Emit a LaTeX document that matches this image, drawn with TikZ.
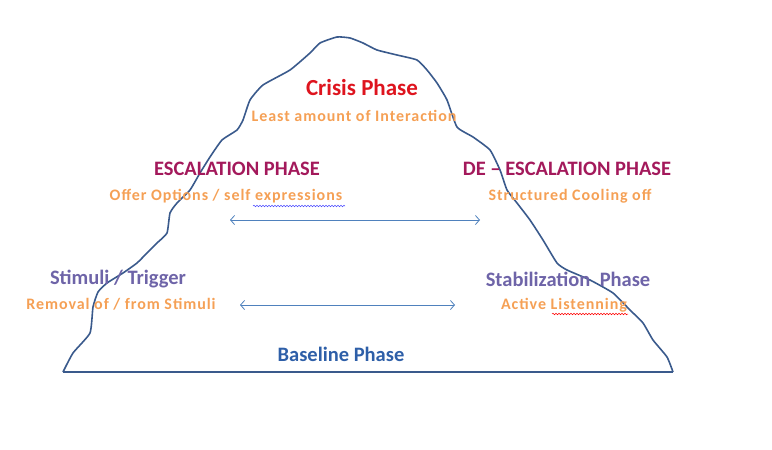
\documentclass[tikz,border=0pt]{standalone}
\usepackage{fontspec}
\setmainfont{Carlito}
\usetikzlibrary{arrows.meta,decorations.pathmorphing}
\definecolor{mline}{RGB}{58,90,140}
\definecolor{arrowc}{RGB}{79,129,189}
\definecolor{crisisred}{RGB}{222,20,30}
\definecolor{escmag}{RGB}{163,25,91}
\definecolor{orangetx}{RGB}{245,160,85}
\definecolor{stimc}{RGB}{110,100,168}
\definecolor{basec}{RGB}{46,95,168}
\tikzset{
  head/.style={font=\bfseries\fontsize{20.5}{22}\selectfont, inner sep=0pt},
  sub/.style={font=\bfseries\fontsize{16}{18}\selectfont\addfontfeatures{LetterSpace=6}, text=orangetx, inner sep=0pt},
  link/.style={draw=arrowc, line width=0.8pt, {Straight Barb[length=4pt,width=9pt]}-{Straight Barb[length=4pt,width=9pt]}},
  wavy/.style={decorate, decoration={snake, amplitude=0.8pt, segment length=3pt}, line width=0.5pt}
}
\begin{document}
\begin{tikzpicture}[x=1pt,y=-1pt]
\useasboundingbox (0,0) rectangle (772,450);
% mountain outline
\draw[mline, line width=1.6pt, line join=round]
 plot[smooth, tension=0.3] coordinates {
 (63,372) (73,353) (90,333) (93,307) (98,292) (107,283) (123,273) (137,263)
 (147,253) (157,243) (167,233) (170,213) (177,203) (190,190) (200,173) (210,157)
 (222,140) (237,130) (243,120) (250,100) (263,85) (290,70) (310,53) (320,43)
 (337,37) (350,38) (363,43) (377,50) (397,55) (417,60) (427,70) (437,83)
 (447,100) (457,127) (473,137) (490,150) (500,170) (507,190) (517,203) (530,220)
 (543,240) (557,263) (567,270) (590,280) (613,293) (630,310) (643,323) (653,340)
 (667,357) (673,372)};
\coordinate (bl) at (63,372);
\coordinate (br) at (673,372);
\draw[mline, line width=1.2pt] (bl) -- (br);
% texts
\node[head, text=crisisred, font=\bfseries\fontsize{23}{25}\selectfont] (crisis) at (362,88) {Crisis Phase};
\node[sub] (least) at (354,116) {Least amount of Interaction};
\node[head, text=escmag] (esc) at (237,169) {ESCALATION PHASE};
\node[sub] (offer) at (226,196) {Offer Options / self expressions};
\node[head, text=escmag] (desc) at (567,169) {DE -- ESCALATION PHASE};
\node[sub] (cool) at (570,196) {Structured Cooling off};
\node[head, text=stimc] (stim) at (118,279) {Stimuli / Trigger};
\node[sub] (remove) at (121,304) {Removal of / from Stimuli};
\node[head, text=stimc] (stab) at (568,279) {Stabilization\ \ Phase};
\node[sub] (active) at (564,305) {Active Listenning};
\node[head, text=basec, font=\bfseries\fontsize{20.5}{22}\selectfont] (base) at (341,354) {Baseline Phase};
% spelling underlines
\coordinate (u1a) at (253,206);
\coordinate (u1b) at (345,206);
\draw[wavy, blue!70] (u1a) -- (u1b);
\coordinate (u2a) at (552,314);
\coordinate (u2b) at (628,314);
\draw[wavy, red] (u2a) -- (u2b);
% arrows
\coordinate (a1l) at (230,220);
\coordinate (a1r) at (480,220);
\coordinate (a2l) at (240,305);
\coordinate (a2r) at (455,305);
\draw[link] (a1l) -- (a1r);
\draw[link] (a2l) -- (a2r);
\end{tikzpicture}
\end{document}
